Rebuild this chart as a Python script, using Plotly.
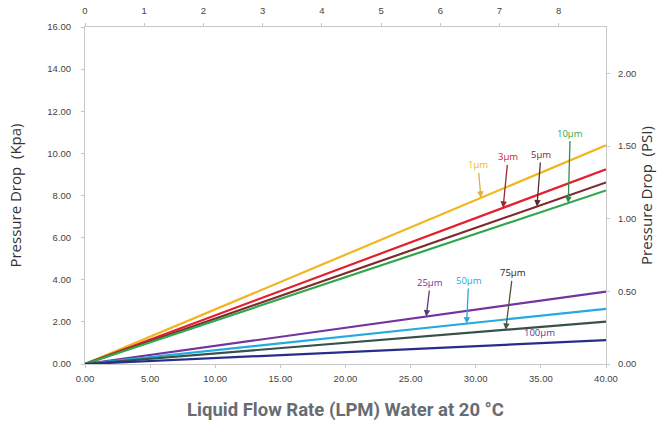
import plotly.graph_objects as go

# flow rate (LPM) end points of each straight line
flow = [0, 40]

# pressure drop in kPa at 0 and 40 LPM
series_names = ["1µm", "3µm", "5µm", "10µm", "25µm", "50µm", "75µm", "100µm"]
kpa_at_40 = [10.38, 9.24, 8.62, 8.24, 3.44, 2.62, 2.01, 1.13]
colors = ["#F2B51E", "#E3202B", "#7E2B2E", "#2EA84D", "#7434A0", "#23AADF", "#34514A", "#262E8A"]

# where each label arrow points (flow value on the line)
label_flow = [30.4, 32.1, 34.7, 37.1, 26.2, 29.3, 32.3, None]
label_colors = ["#F2B51E", "#D3202B", "#7E2B2E", "#2EA84D", "#7434A0", "#23AADF", "#222222", "#5B3A9A"]
arrow_colors = ["#E0B040", "#9A2A2E", "#5A2A2E", "#2E8E4D", "#5A3A7A", "#23AADF", "#4A5A3A", None]
# pixel offsets from arrow head to label
label_ax = [-3, 5, 4, 2, 4, 2, 7, 0]
label_ay = [-33, -51, -52, -70, -34, -43, -57, 0]

top_ticks = [0, 1, 2, 3, 4, 5, 6, 7, 8]
left_ticks = [0, 2, 4, 6, 8, 10, 12, 14, 16]
right_ticks = [0, 0.5, 1.0, 1.5, 2.0]
bottom_ticks = [0, 5, 10, 15, 20, 25, 30, 35, 40]

fig = go.Figure()
for name, v, c in zip(series_names, kpa_at_40, colors):
    fig.add_trace(go.Scatter(
        x=flow, y=[0, v], mode="lines", name=name,
        line=dict(color=c, width=2.2),
    ))

# dummy trace so the secondary axes get drawn
fig.add_trace(go.Scatter(x=[0], y=[0], xaxis="x2", yaxis="y2",
                         mode="markers", marker=dict(opacity=0), hoverinfo="skip"))

annotations = []
for i, name in enumerate(series_names):
    if label_flow[i] is not None:
        xf = label_flow[i]
        yv = kpa_at_40[i] * xf / 40
        annotations.append(dict(
            x=xf, y=yv, xref="x", yref="y", text=name, showarrow=True,
            ax=label_ax[i], ay=label_ay[i], arrowhead=2, arrowsize=1,
            arrowwidth=1.3, arrowcolor=arrow_colors[i],
            font=dict(size=9.5, color=label_colors[i], family="Open Sans"),
        ))
    else:
        annotations.append(dict(
            x=34.9, y=1.48, xref="x", yref="y", text=name, showarrow=False,
            font=dict(size=9.5, color=label_colors[i], family="Open Sans"),
        ))

tick_font = dict(size=9.5, color="#444444", family="Liberation Sans")
title_font = dict(size=15, color="#333333", family="Open Sans")
axis_style = dict(
    showgrid=False, zeroline=False, showline=True, linecolor="#C8C8C8",
    linewidth=1, ticks="outside", ticklen=3, tickcolor="#C8C8C8",
    tickfont=tick_font, automargin=False,
)

fig.update_layout(
    width=657, height=421,
    paper_bgcolor="white", plot_bgcolor="white",
    showlegend=False,
    margin=dict(l=85, r=51, t=27, b=57),
    annotations=annotations,
    xaxis=dict(
        range=[0, 40], tickvals=bottom_ticks,
        ticktext=[f"{t:.2f}" for t in bottom_ticks],
        ticklabelstandoff=3,
        title=dict(text="<b>Liquid Flow Rate (LPM) Water at 20 °C</b>",
                   font=dict(size=18.5, color="#676C72", family="Roboto"),
                   standoff=20),
        **axis_style,
    ),
    xaxis2=dict(
        overlaying="x", side="top", range=[0, 40 / 4.546],
        tickvals=top_ticks, ticklabelstandoff=5, **axis_style,
    ),
    yaxis=dict(
        range=[0, 16], tickvals=left_ticks,
        ticktext=[f"{t:.2f}" for t in left_ticks],
        ticklabelstandoff=8,
        title=dict(text="Pressure Drop  (Kpa)", font=title_font, standoff=22),
        **axis_style,
    ),
    yaxis2=dict(
        overlaying="y", side="right", range=[0, 16 / 6.895],
        tickvals=right_ticks, ticktext=[f"{t:.2f}" for t in right_ticks],
        ticklabelstandoff=6,
        title=dict(text="Pressure Drop  (PSI)", font=title_font, standoff=4),
        **axis_style,
    ),
)

fig.write_html("out.html", config={"displayModeBar": False},
               post_script="document.body.style.margin='0';")
